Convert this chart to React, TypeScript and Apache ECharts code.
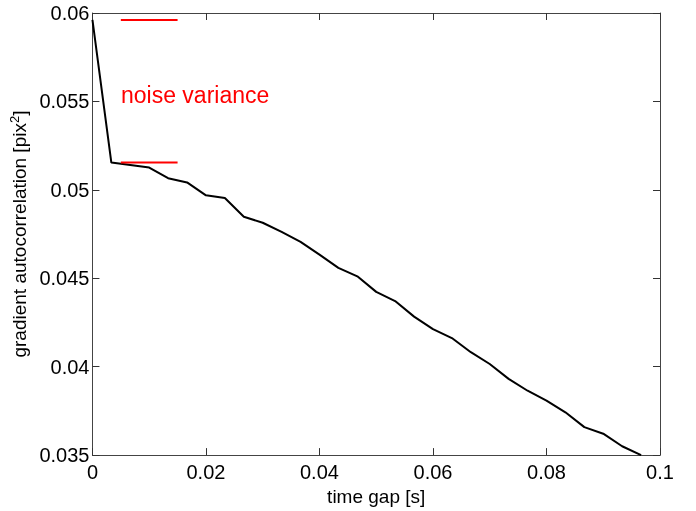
import React, { useEffect, useRef } from "react";
import * as echarts from "echarts";

const timeGap: number[] = [
  0, 0.00333, 0.00667, 0.01, 0.01333, 0.01667, 0.02, 0.02333, 0.02667, 0.03,
  0.03333, 0.03667, 0.04, 0.04333, 0.04667, 0.05, 0.05333, 0.05667, 0.06, 0.06333,
  0.06667, 0.07, 0.07333, 0.07667, 0.08, 0.08333, 0.08667, 0.09, 0.09333, 0.09667,
];
const autocorr: number[] = [
  0.05961, 0.05154, 0.0514, 0.05126, 0.05066, 0.05042, 0.04969, 0.04954, 0.04848, 0.04814,
  0.04762, 0.04706, 0.04634, 0.04559, 0.04511, 0.04423, 0.04371, 0.04283, 0.04212, 0.04162,
  0.04082, 0.04015, 0.03931, 0.03864, 0.03808, 0.03742, 0.03658, 0.03621, 0.0355, 0.035,
];
const noiseX: number[] = [0.005, 0.015];
const noiseLevels: number[] = [0.05961, 0.05154];
const noiseText = "noise variance";
const xLabel = "time gap [s]";
const yLabel = "gradient autocorrelation [pix{sup|2}]";

const FONT = "'Liberation Sans', Arial, Helvetica, sans-serif";

export default function App() {
  const ref = useRef<HTMLDivElement>(null);
  useEffect(() => {
    if (!ref.current) return;
    const chart = echarts.init(ref.current, undefined, { renderer: "svg" });
    const axisLine = { show: true, onZero: false, lineStyle: { color: "#444", width: 1 } };
    const tick = { show: true, inside: true, length: 7, lineStyle: { color: "#333", width: 1 } };
    chart.setOption({
      animation: false,
      textStyle: { fontFamily: FONT },
      grid: { left: 92, top: 13, right: 36, bottom: 51, containLabel: false },
      xAxis: [
        {
          type: "value",
          min: 0,
          max: 0.1,
          interval: 0.02,
          axisLine,
          axisTick: tick,
          splitLine: { show: false },
          axisLabel: {
            color: "#000",
            fontSize: 20,
            fontFamily: FONT,
            margin: 7,
            formatter: (v: number) => String(parseFloat(v.toFixed(3))),
          },
          name: xLabel,
          nameLocation: "middle",
          nameGap: 28,
          nameTextStyle: { color: "#000", fontSize: 19, fontFamily: FONT },
        },
        {
          type: "value",
          position: "top",
          min: 0,
          max: 0.1,
          interval: 0.02,
          axisLine,
          axisTick: tick,
          axisLabel: { show: false },
          splitLine: { show: false },
        },
      ],
      yAxis: [
        {
          type: "value",
          min: 0.035,
          max: 0.06,
          interval: 0.005,
          axisLine,
          axisTick: tick,
          splitLine: { show: false },
          axisLabel: {
            color: "#000",
            fontSize: 20,
            fontFamily: FONT,
            margin: 3,
            formatter: (v: number) => String(parseFloat(v.toFixed(3))),
          },
          name: yLabel,
          nameLocation: "middle",
          nameGap: 56,
          nameRotate: 90,
          nameTextStyle: {
            color: "#000",
            fontSize: 19,
            fontFamily: FONT,
            rich: {
              sup: { fontSize: 13, color: "#000", fontFamily: FONT, padding: [0, 0, 9, 0] },
            },
          },
        },
        {
          type: "value",
          position: "right",
          min: 0.035,
          max: 0.06,
          interval: 0.005,
          axisLine,
          axisTick: tick,
          axisLabel: { show: false },
          splitLine: { show: false },
        },
      ],
      series: [
        {
          type: "line",
          data: timeGap.map((t, i) => [t, autocorr[i]]),
          showSymbol: false,
          lineStyle: { color: "#000", width: 2 },
          z: 3,
        },
        ...noiseLevels.map((lv) => ({
          type: "line",
          data: noiseX.map((x) => [x, lv]),
          showSymbol: false,
          lineStyle: { color: "#ff0000", width: 2 },
          z: 4,
        })),
      ],
      graphic: [
        {
          type: "text",
          left: 121,
          top: 83,
          style: {
            text: noiseText,
            fill: "#ff0000",
            fontSize: 23,
            fontFamily: FONT,
          },
        },
      ],
    });
    return () => chart.dispose();
  }, []);
  return (
    <div
      ref={ref}
      style={{ position: "fixed", left: 0, top: 0, width: 696, height: 511 }}
    />
  );
}
